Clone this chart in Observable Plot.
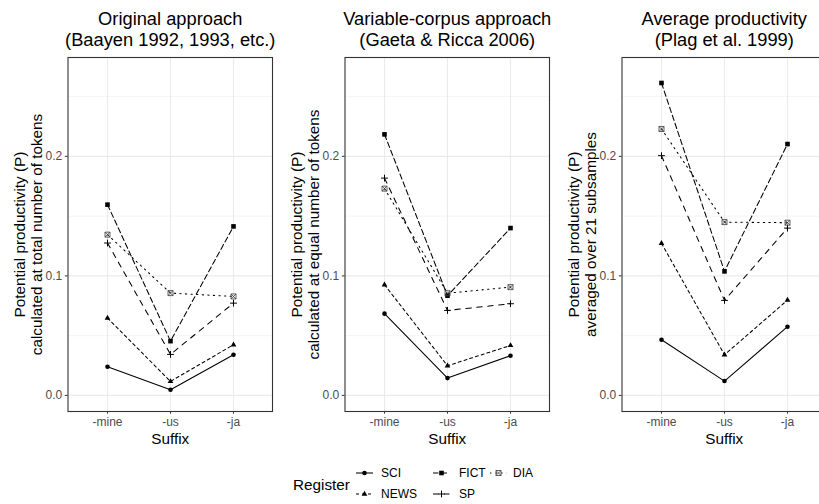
<!DOCTYPE html>
<html><head><meta charset="utf-8">
<script src="https://cdn.jsdelivr.net/npm/d3@7"></script>
<script src="https://cdn.jsdelivr.net/npm/@observablehq/plot@0.6"></script>
<style>
body{margin:0;background:#fff;}
#wrap{position:relative;width:819px;height:504px;overflow:hidden;background:#fff;font-family:"Liberation Sans",Arial,Helvetica,sans-serif;}
.panel{position:absolute;top:0;}
</style></head><body><div id="wrap"></div>
<script>
const suffixes = ["-mine", "-us", "-ja"];
const registers = ["SCI", "NEWS", "FICT", "SP", "DIA"];
const panelTitles = [
  ["Original approach", "(Baayen 1992, 1993, etc.)"],
  ["Variable-corpus approach", "(Gaeta & Ricca 2006)"],
  ["Average productivity", "(Plag et al. 1999)"]
];
const yTitles = [
  ["Potential productivity (P)", "calculated at total number of tokens"],
  ["Potential productivity (P)", "calculated at equal number of tokens"],
  ["Potential productivity (P)", "averaged over 21 subsamples"]
];
const xTitle = "Suffix";
const legendTitle = "Register";
// values per register (SCI, NEWS, FICT, SP, DIA) for -mine, -us, -ja
const originalValues = [
  [0.0240, 0.0047, 0.0340],
  [0.0647, 0.0117, 0.0424],
  [0.1596, 0.0454, 0.1414],
  [0.1275, 0.0343, 0.0772],
  [0.1345, 0.0856, 0.0828]
];
const variableCorpusValues = [
  [0.0684, 0.0145, 0.0332],
  [0.0926, 0.0248, 0.0418],
  [0.2184, 0.0834, 0.1400],
  [0.1818, 0.0711, 0.0767],
  [0.1730, 0.0855, 0.0906]
];
const averageValues = [
  [0.0466, 0.0120, 0.0575],
  [0.1272, 0.0340, 0.0797],
  [0.2614, 0.1038, 0.2103],
  [0.2006, 0.0795, 0.1400],
  [0.2229, 0.1450, 0.1445]
];
const yMajorTicks = [0, 0.1, 0.2];
const yMinorTicks = [0.05, 0.15, 0.25];
const yDomain = [-0.01346, 0.28272];

// custom symbols; half-extent R = sqrt(size/pi) = dot radius
const R = size => Math.sqrt(size / Math.PI);
const symCircle = {draw(c, s){const r=R(s); c.moveTo(r,0); c.arc(0,0,r,0,2*Math.PI);}};
const symTriangle = {draw(c, s){const r=R(s); c.moveTo(0,-r); c.lineTo(r*0.866,r*0.5); c.lineTo(-r*0.866,r*0.5); c.closePath();}};
const symSquare = {draw(c, s){const r=R(s); c.rect(-r,-r,2*r,2*r);}};
const symPlus = {draw(c, s){const r=R(s); c.moveTo(-r,0); c.lineTo(r,0); c.moveTo(0,-r); c.lineTo(0,r);}};
const symSquareX = {draw(c, s){const r=R(s); c.rect(-r,-r,2*r,2*r); c.moveTo(-r,-r); c.lineTo(r,r); c.moveTo(r,-r); c.lineTo(-r,r);}};

const styles = {
  SCI:  {dash: null,    symbol: symCircle,   r: 2.3, filled: true},
  NEWS: {dash: "3,3",   symbol: symTriangle, r: 3.3, filled: true},
  FICT: {dash: "5.5,3", symbol: symSquare,   r: 2.3, filled: true},
  SP:   {dash: "5.5,5.5", symbol: symPlus,   r: 3.4, filled: false},
  DIA:  {dash: "1.4,4.2", symbol: symSquareX, r: 2.5, filled: false}
};

const FONT = "Liberation Sans, Arial, Helvetica, sans-serif";
const frameLefts = [67.5, 344.3, 621.3];
const ML = 67.5, FW = 204.5, MT = 57, FB = 411, H = 504;

function makePanel(i, values) {
  const rows = registers.flatMap((reg, ri) => suffixes.map((s, si) => ({register: reg, suffix: s, value: values[ri][si]})));
  const lines = registers.map(reg => Plot.line(rows.filter(d => d.register === reg), {
    x: "suffix", y: "value", stroke: "black", strokeWidth: 1.05,
    strokeDasharray: styles[reg].dash || undefined
  }));
  const dots = registers.map(reg => {
    const st = styles[reg];
    return Plot.dot(rows.filter(d => d.register === reg), {
      x: "suffix", y: "value", r: st.r, symbol: st.symbol,
      fill: st.filled ? "black" : "none",
      stroke: st.filled ? "none" : (reg === "DIA" ? "#3a3a3a" : "black"),
      strokeWidth: reg === "DIA" ? 0.8 : 1
    });
  });
  return Plot.plot({
    width: ML + FW + 6, height: H,
    marginLeft: ML, marginRight: 6, marginTop: MT, marginBottom: H - FB,
    style: {fontFamily: FONT, fontSize: "12px", overflow: "visible", background: "transparent"},
    x: {type: "point", domain: suffixes, padding: 0.6, axis: null},
    y: {domain: yDomain, axis: null},
    marks: [
      Plot.gridY(yMinorTicks, {stroke: "#EBEBEB", strokeOpacity: 1, strokeWidth: 0.55}),
      Plot.gridY(yMajorTicks, {stroke: "#EBEBEB", strokeOpacity: 1, strokeWidth: 1.1}),
      Plot.gridX(suffixes, {stroke: "#EBEBEB", strokeOpacity: 1, strokeWidth: 1.1}),
      ...lines,
      ...dots,
      Plot.frame({stroke: "#333333", strokeWidth: 1.1}),
      Plot.axisY(yMajorTicks, {tickSize: 2.7, tickPadding: 3, stroke: "#333333", fill: "#4D4D4D", tickFormat: d3.format(".1f"), label: null, fontSize: 12}),
      Plot.axisX(suffixes, {tickSize: 2.7, tickPadding: 3, stroke: "#333333", fill: "#4D4D4D", label: null, fontSize: 12}),
      Plot.text([panelTitles[i][0]], {text: d => d, frameAnchor: "top", lineAnchor: "middle", dy: -38, fontSize: 18.3, fill: "black"}),
      Plot.text([panelTitles[i][1]], {text: d => d, frameAnchor: "top", lineAnchor: "middle", dy: -17, fontSize: 18.3, fill: "black"}),
      Plot.text([yTitles[i][0]], {text: d => d, frameAnchor: "left", textAnchor: "middle", lineAnchor: "middle", rotate: -90, dx: -47.5, fontSize: 15.3, fill: "black"}),
      Plot.text([yTitles[i][1]], {text: d => d, frameAnchor: "left", textAnchor: "middle", lineAnchor: "middle", rotate: -90, dx: -30.5, fontSize: 15.3, fill: "black"}),
      Plot.text([xTitle], {text: d => d, frameAnchor: "bottom", lineAnchor: "middle", dy: 28, fontSize: 15.3, fill: "black"})
    ]
  });
}

const wrap = document.getElementById("wrap");
[originalValues, variableCorpusValues, averageValues].forEach((vals, i) => {
  const el = makePanel(i, vals);
  el.classList.add("panel");
  el.style.position = "absolute";
  el.style.left = (frameLefts[i] - ML) + "px";
  el.style.top = "0px";
  wrap.appendChild(el);
});

// legend
const lg = d3.select(wrap).append("svg")
  .attr("width", 819).attr("height", 54)
  .style("position", "absolute").style("left", "0px").style("top", "450px")
  .style("font-family", FONT);
lg.append("text").attr("x", 293).attr("y", 35).attr("dy", "0.35em")
  .attr("font-size", 15.3).attr("fill", "black").text(legendTitle);
const colX = [356, 433, 490];
const labelX = [381, 459, 513];
const rowY = [23, 44];
registers.forEach((reg, k) => {
  const col = Math.floor(k / 2), row = k % 2;
  const st = styles[reg];
  const x0 = colX[col], y0 = rowY[row];
  lg.append("line").attr("x1", x0).attr("x2", x0 + 17).attr("y1", y0).attr("y2", y0)
    .attr("stroke", "black").attr("stroke-width", 1.05)
    .attr("stroke-dasharray", st.dash);
  lg.append("path").attr("transform", `translate(${x0 + 8.5},${y0})`)
    .attr("d", d3.symbol(st.symbol, st.r * st.r * Math.PI)())
    .attr("fill", st.filled ? "black" : "none")
    .attr("stroke", st.filled ? "none" : (reg === "DIA" ? "#3a3a3a" : "black"))
    .attr("stroke-width", reg === "DIA" ? 0.8 : 1);
  lg.append("text").attr("x", labelX[col]).attr("y", y0).attr("dy", "0.35em")
    .attr("font-size", 12).attr("fill", "black").text(reg);
});
</script></body></html>
